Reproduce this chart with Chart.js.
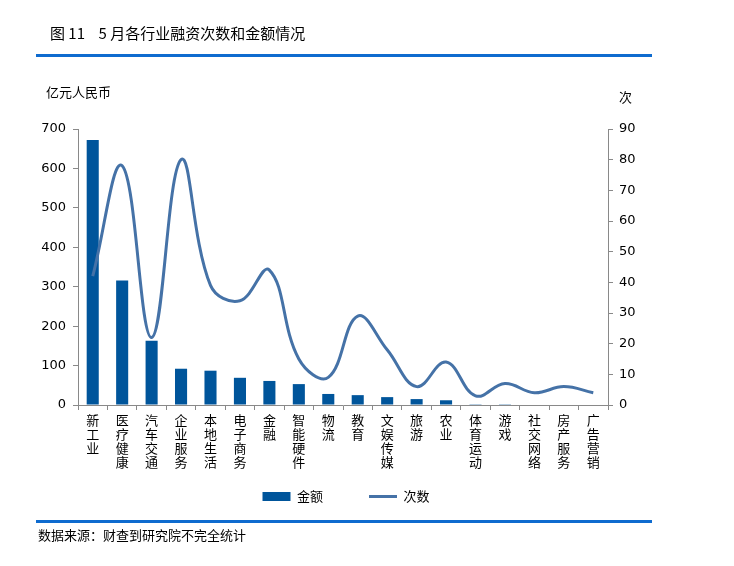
<!DOCTYPE html>
<html>
<head>
<meta charset="utf-8">
<script src="https://cdn.jsdelivr.net/npm/chart.js@4/dist/chart.umd.min.js"></script>
<style>
  body { margin: 0; background: #fff; }
  #wrap { position: relative; width: 734px; height: 566px; font-family: 'Noto Sans CJK SC', sans-serif; color: #000; }
  #chart { position: absolute; left: 0; top: 0; }
  .txt { position: absolute; white-space: pre; line-height: 1; }
  .rule { position: absolute; left: 36px; width: 616px; height: 3px; background: #0e6bcf; }
</style>
</head>
<body>
<div id="wrap">
  <canvas id="chart" width="734" height="566"></canvas>
  <div class="txt" style="left:50px;top:25px;font-size:15px;">图 11    5 月各行业融资次数和金额情况</div>
  <div class="rule" style="top:54px;"></div>
  <div class="txt" style="left:46px;top:85px;font-size:13px;">亿元人民币</div>
  <div class="txt" style="left:619px;top:90px;font-size:13px;">次</div>
  <div class="rule" style="top:520px;"></div>
  <div class="txt" style="left:38px;top:528px;font-size:13px;">数据来源：财查到研究院不完全统计</div>
</div>
<script>
var categories = ['新工业','医疗健康','汽车交通','企业服务','本地生活','电子商务','金融','智能硬件','物流','教育','文娱传媒','旅游','农业','体育运动','游戏','社交网络','房产服务','广告营销']
var amounts = [672, 316, 163, 92, 87, 69, 61, 53, 28, 25, 20, 15, 12, 2, 2, 0, 0, 0]
var counts = [42, 78, 22, 80, 39, 34, 44, 15, 9, 29, 18, 6, 14, 3, 7, 4, 6, 4]

// one character per line, like the vertical labels in the original
var labels = categories.map(function(c){ return c.split('') })

var axisColor = '#898989'
var numFont = { family: 'DejaVu Sans', size: 13 }

new Chart(document.getElementById('chart'), {
  type: 'bar',
  data: {
    labels: labels,
    datasets: [{
      label: '金额',
      data: amounts,
      backgroundColor: '#00559b',
      borderWidth: 0,
      barPercentage: 0.41,
      categoryPercentage: 1,
      pointStyle: 'rect',
      yAxisID: 'y',
      order: 2
    }, {
      type: 'line',
      label: '次数',
      data: counts,
      borderColor: '#4572a7',
      backgroundColor: '#4572a7',
      borderWidth: 3,
      tension: 0.4,
      pointRadius: 0,
      pointStyle: 'line',
      yAxisID: 'y1',
      order: 1
    }]
  },
  options: {
    responsive: false,
    animation: false,
    layout: { padding: { left: 38, right: 80, top: 129, bottom: 53 } },
    plugins: {
      tooltip: { enabled: false },
      legend: {
        position: 'bottom',
        labels: {
          usePointStyle: true,
          pointStyleWidth: 28,
          boxHeight: 9,
          padding: 20,
          color: '#000',
          font: { family: 'Noto Sans CJK SC', size: 13 },
          sort: function(a, b){ return a.datasetIndex - b.datasetIndex },
          // wider gap after the first item, as in the original
          generateLabels: function(chart){
            var items = Chart.defaults.plugins.legend.labels.generateLabels(chart)
            items.forEach(function(it){ if (it.datasetIndex === 0) it.text = it.text + '\u3000\u3000' })
            return items
          }
        }
      }
    },
    scales: {
      x: {
        afterFit: function(s){ s.height = 65 },
        border: { color: axisColor },
        grid: { offset: true, drawOnChartArea: false, tickLength: 5, color: axisColor },
        ticks: { color: '#000', padding: 3, maxRotation: 0, autoSkip: false, font: { family: 'Noto Sans CJK SC', size: 13, lineHeight: 1.08 } }
      },
      y: {
        position: 'left',
        min: 0, max: 700,
        afterFit: function(s){ s.width = 40 },
        border: { color: axisColor },
        grid: { drawOnChartArea: false, tickLength: 5, color: axisColor },
        ticks: { stepSize: 100, color: '#000', padding: 7, font: numFont }
      },
      y1: {
        position: 'right',
        min: 0, max: 90,
        afterFit: function(s){ s.width = 46 },
        border: { color: axisColor },
        grid: { drawOnChartArea: false, tickLength: 5, color: axisColor },
        ticks: { stepSize: 10, color: '#000', padding: 6, font: numFont }
      }
    }
  }
})
</script>
</body>
</html>
